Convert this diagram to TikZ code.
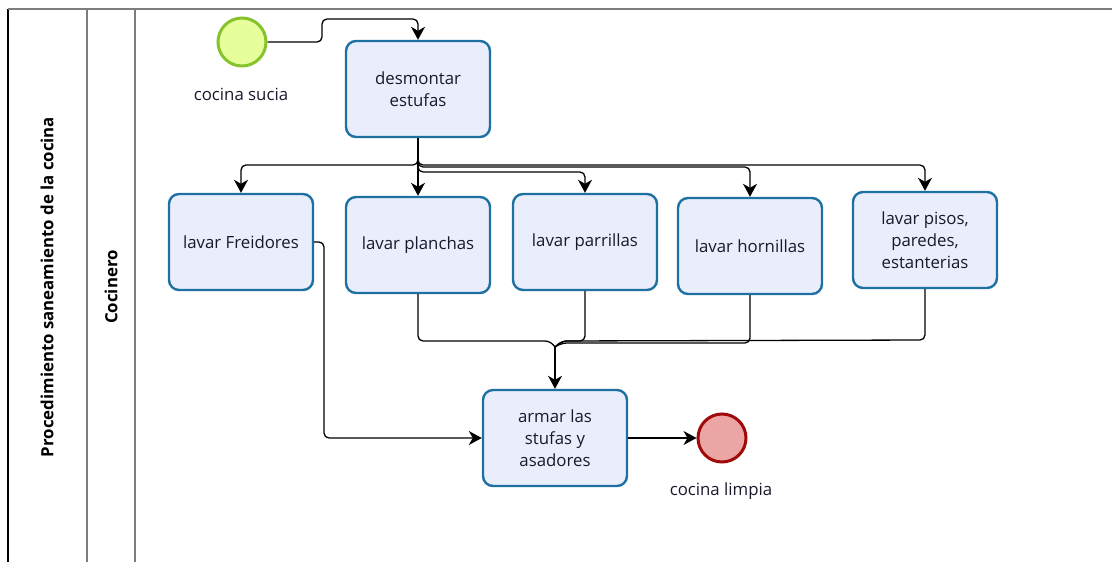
\documentclass[tikz,border=0pt]{standalone}
\usepackage{fontspec}
\setmainfont{Open Sans}
\usetikzlibrary{arrows.meta,calc}

\definecolor{taskfill}{RGB}{233,237,252}
\definecolor{taskdraw}{RGB}{30,112,160}
\definecolor{startfill}{RGB}{230,255,155}
\definecolor{startdraw}{RGB}{135,195,45}
\definecolor{endfill}{RGB}{235,165,165}
\definecolor{enddraw}{RGB}{160,10,10}
\definecolor{lanegray}{RGB}{125,125,125}
\definecolor{txt}{RGB}{25,25,45}

\tikzset{
  task/.style={draw=taskdraw, fill=taskfill, line width=2.4pt, rounded corners=10pt,
    minimum width=144pt, minimum height=96pt, inner sep=0pt, align=center,
    font=\fontsize{16.8}{22}\selectfont, text=txt},
  startev/.style={circle, draw=startdraw, fill=startfill, line width=3pt,
    minimum size=48pt, inner sep=0pt},
  endev/.style={circle, draw=enddraw, fill=endfill, line width=3pt,
    minimum size=48pt, inner sep=0pt},
  evlabel/.style={font=\fontsize{16.8}{20}\selectfont, text=txt, inner sep=0pt},
  flow/.style={draw=black, line width=1.3pt, rounded corners=5pt,
    -{Stealth[length=13pt,width=14pt,inset=4pt]}},
  joinline/.style={draw=black, line width=1.3pt, rounded corners=5pt},
  lanelabel/.style={rotate=90, font=\bfseries\fontsize{16.8}{18}\selectfont, text=black},
}

\begin{document}
\begin{tikzpicture}[x=1pt,y=-1pt]
\useasboundingbox (0,0) rectangle (1112,562);

% pool and lane frame
\draw[black, line width=1.5pt] (8,562) -- (8,9);
\draw[lanegray, line width=1.5pt] (8,9) -- (1112,9);
\draw[lanegray, line width=1.5pt] (87,9) -- (87,562);
\draw[lanegray, line width=1.5pt] (135,9) -- (135,562);
\node[lanelabel] (pool) at (47,287) {Procedimiento saneamiento de la cocina};
\node[lanelabel] (lane) at (111,287) {Cocinero};

% events
\node[startev] (start) at (242,42) {};
\node[evlabel] (startlbl) at (241,94) {cocina sucia};
\node[endev] (fin) at (722,438) {};
\node[evlabel] (finlbl) at (721,491) {cocina limpia};

% tasks
\node[task] (des) at (418,89) {desmontar\\estufas};
\node[task] (fr) at (241,242) {lavar Freidores};
\node[task] (pl) at (418,245) {lavar planchas};
\node[task] (pa) at (585,242) {lavar parrillas};
\node[task] (ho) at (750,246) {lavar hornillas};
\node[task] (pi) at (925,240) {lavar pisos,\\paredes,\\estanterias};
\node[task] (ar) at (555,438) {armar las\\stufas y\\asadores};

% sequence flows
\draw[flow] (start.east) -- (322,42) -- (322,19) -- (418,19) -- (des.north);
\draw[flow] (des.south) -- (pl.north);
\draw[flow] (des.south) -- (418,165) -- (fr.north |- 0,165) -- (fr.north);
\draw[flow] (des.south) -- (418,172) -- (pa.north |- 0,172) -- (pa.north);
\draw[flow] (des.south) -- (418,167) -- (ho.north |- 0,167) -- (ho.north);
\draw[flow] (des.south) -- (418,165) -- (pi.north |- 0,165) -- (pi.north);

\coordinate (join) at (555,347);
\draw[joinline] (pl.south) -- (pl.south |- 0,341) -- (550,341) -- (join);
\draw[joinline] (pa.south) -- (pa.south |- 0,341) -- (562,341) -- (join);
\draw[joinline] (ho.south) -- (ho.south |- 0,343) -- (562,343) -- (join);
\draw[joinline] (pi.south) -- (pi.south |- 0,340) -- (562,341) -- (join);
\draw[flow] (join) -- (ar.north);
\draw[flow] (fr.east) -- (324,242) -- (324,438) -- (ar.west);
\draw[flow] (ar.east) -- (fin.west);
\end{tikzpicture}
\end{document}
